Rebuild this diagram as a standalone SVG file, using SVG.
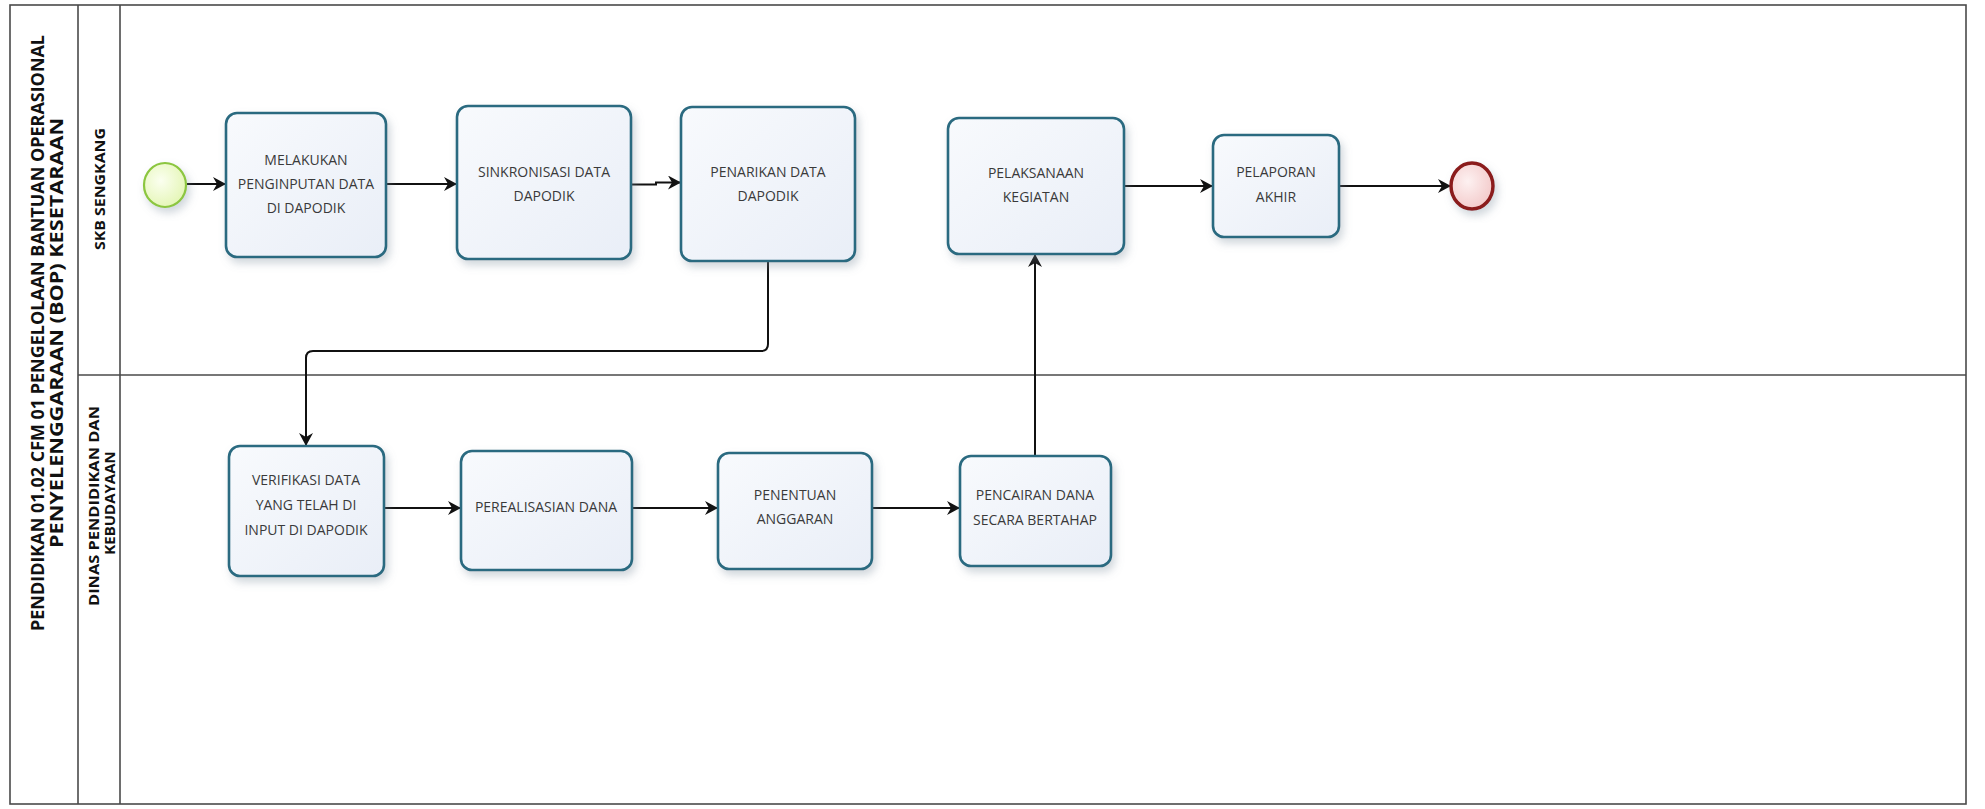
<svg xmlns="http://www.w3.org/2000/svg" width="1985" height="809" viewBox="0 0 1985 809">
<style>
.frame{fill:none;stroke:#4a4a4a;stroke-width:1.6}
.task{fill:url(#taskFill);stroke:#2a6a80;stroke-width:2.6;filter:url(#shadow)}
.tt{font-family:"Open Sans","Liberation Sans",sans-serif;font-size:14px;fill:#3a3a3a;text-anchor:middle}
.lbl{font-family:"Open Sans","Liberation Sans",sans-serif;font-weight:bold;font-size:17px;fill:#111;text-anchor:middle}
.lane{font-family:"Open Sans","Liberation Sans",sans-serif;font-weight:bold;font-size:15px;fill:#111;text-anchor:middle}
.flow{fill:none;stroke:#111;stroke-width:2;marker-end:url(#arrow)}
</style>
<defs>
<linearGradient id="taskFill" x1="0" y1="0" x2="1" y2="1">
<stop offset="0" stop-color="#f8fafd"/>
<stop offset="1" stop-color="#e9eef7"/>
</linearGradient>
<radialGradient id="startFill" cx="0.4" cy="0.4" r="0.7">
<stop offset="0" stop-color="#fbfff0"/>
<stop offset="1" stop-color="#e2f5b0"/>
</radialGradient>
<radialGradient id="endFill" cx="0.4" cy="0.4" r="0.7">
<stop offset="0" stop-color="#fdf1f1"/>
<stop offset="1" stop-color="#f2c6c6"/>
</radialGradient>
<filter id="shadow" x="-20%" y="-20%" width="150%" height="150%">
<feDropShadow dx="3" dy="5" stdDeviation="4" flood-color="#7a8a9a" flood-opacity="0.35"/>
</filter>
<marker id="arrow" markerUnits="userSpaceOnUse" markerWidth="14" markerHeight="14" refX="13" refY="7" orient="auto">
<path d="M0,0 L13,7 L0,14 L4,7 Z" fill="#111"/>
</marker>
</defs>

<g id="pool">
<rect class="frame" x="10" y="5" width="1956" height="799"/>
<line class="frame" x1="78" y1="5" x2="78" y2="804"/>
<line class="frame" x1="120" y1="5" x2="120" y2="804"/>
<line class="frame" x1="78" y1="375" x2="1966" y2="375"/>
<text class="lbl" transform="translate(44,333) rotate(-90)" textLength="596" lengthAdjust="spacingAndGlyphs">PENDIDIKAN 01.02 CFM 01 PENGELOLAAN BANTUAN OPERASIONAL</text>
<text class="lbl" transform="translate(63,333) rotate(-90)" textLength="430" lengthAdjust="spacingAndGlyphs">PENYELENGGARAAN (BOP) KESETARAAN</text>
</g>
<g id="lane-skb">
<text class="lane" transform="translate(105,189) rotate(-90)" textLength="122" lengthAdjust="spacingAndGlyphs">SKB SENGKANG</text>
</g>
<g id="lane-dinas">
<text class="lane" transform="translate(99,506) rotate(-90)" textLength="200" lengthAdjust="spacingAndGlyphs">DINAS PENDIDIKAN DAN</text>
<text class="lane" transform="translate(115,503) rotate(-90)">KEBUDAYAAN</text>
</g>

<g id="connectors">
<line class="flow" x1="187" y1="184" x2="226" y2="184"/>
<line class="flow" x1="386" y1="184" x2="457" y2="184"/>
<path class="flow" d="M631,184.5 H656 V182.5 H681"/>
<path class="flow" d="M768,262 V344 Q768,351 761,351 H313 Q306,351 306,358 V446"/>
<line class="flow" x1="1124" y1="186" x2="1213" y2="186"/>
<line class="flow" x1="1339" y1="186" x2="1451" y2="186"/>
<line class="flow" x1="384" y1="508" x2="461" y2="508"/>
<line class="flow" x1="632" y1="508" x2="718" y2="508"/>
<line class="flow" x1="872" y1="508" x2="960" y2="508"/>
<line class="flow" x1="1035" y1="455" x2="1035" y2="254"/>
</g>

<g id="start">
<ellipse cx="165" cy="185" rx="21" ry="22" fill="url(#startFill)" stroke="#8cc63f" stroke-width="2.2" filter="url(#shadow)"/>
</g>
<g id="end">
<ellipse cx="1472" cy="186" rx="21" ry="23" fill="url(#endFill)" stroke="#8b1c1c" stroke-width="3.5" filter="url(#shadow)"/>
</g>

<g id="t-melakukan">
<rect class="task" x="226" y="113" width="160" height="144" rx="11"/>
<text class="tt" x="306" y="165">MELAKUKAN</text>
<text class="tt" x="306" y="189">PENGINPUTAN DATA</text>
<text class="tt" x="306" y="213">DI DAPODIK</text>
</g>
<g id="t-sinkronisasi">
<rect class="task" x="457" y="106" width="174" height="153" rx="11"/>
<text class="tt" x="544" y="177">SINKRONISASI DATA</text>
<text class="tt" x="544" y="201">DAPODIK</text>
</g>
<g id="t-penarikan">
<rect class="task" x="681" y="107" width="174" height="154" rx="11"/>
<text class="tt" x="768" y="177">PENARIKAN DATA</text>
<text class="tt" x="768" y="201">DAPODIK</text>
</g>
<g id="t-pelaksanaan">
<rect class="task" x="948" y="118" width="176" height="136" rx="11"/>
<text class="tt" x="1036" y="178">PELAKSANAAN</text>
<text class="tt" x="1036" y="202">KEGIATAN</text>
</g>
<g id="t-pelaporan">
<rect class="task" x="1213" y="135" width="126" height="102" rx="11"/>
<text class="tt" x="1276" y="177">PELAPORAN</text>
<text class="tt" x="1276" y="202">AKHIR</text>
</g>
<g id="t-verifikasi">
<rect class="task" x="229" y="446" width="155" height="130" rx="11"/>
<text class="tt" x="306" y="485">VERIFIKASI DATA</text>
<text class="tt" x="306" y="510">YANG TELAH DI</text>
<text class="tt" x="306" y="535">INPUT DI DAPODIK</text>
</g>
<g id="t-perealisasian">
<rect class="task" x="461" y="451" width="171" height="119" rx="11"/>
<text class="tt" x="546" y="512">PEREALISASIAN DANA</text>
</g>
<g id="t-penentuan">
<rect class="task" x="718" y="453" width="154" height="116" rx="11"/>
<text class="tt" x="795" y="500">PENENTUAN</text>
<text class="tt" x="795" y="524">ANGGARAN</text>
</g>
<g id="t-pencairan">
<rect class="task" x="960" y="456" width="151" height="110" rx="11"/>
<text class="tt" x="1035" y="500">PENCAIRAN DANA</text>
<text class="tt" x="1035" y="525">SECARA BERTAHAP</text>
</g>
</svg>
